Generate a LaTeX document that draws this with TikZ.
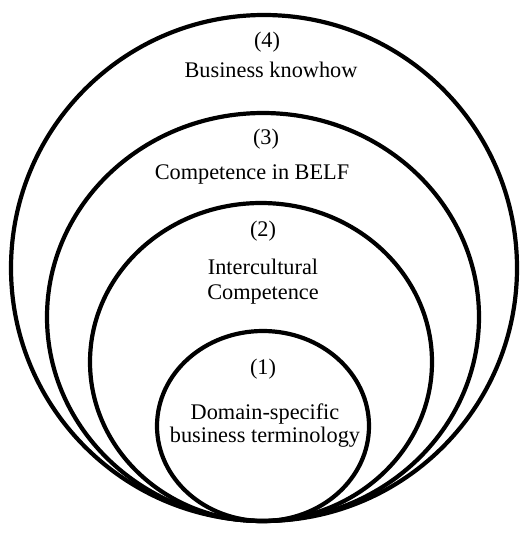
\documentclass[tikz,border=0pt]{standalone}
\usepackage{fontspec}
\setmainfont{Liberation Serif}
\begin{document}
\begin{tikzpicture}[x=1pt,y=-1pt,
  ring/.style={draw=black,line width=4.2pt},
  lbl/.style={font=\fontsize{22.3}{25}\selectfont,align=center,inner sep=0pt,anchor=base}]
\useasboundingbox (0,0) rectangle (522,533);
\fill[white] (0,0) rectangle (522,533);
\draw[ring] (264,268) ellipse [x radius=253,y radius=253];
\draw[ring] (263,317) ellipse [x radius=216,y radius=204];
\draw[ring] (261,362) ellipse [x radius=171,y radius=159];
\draw[ring] (263,426) ellipse [x radius=106,y radius=95];
\node[lbl] (n4) at (267,47) {(4)};
\node[lbl] (t4) at (271,77) {Business knowhow};
\node[lbl] (n3) at (266,144) {(3)};
\node[lbl] (t3) at (252,179) {Competence in BELF};
\node[lbl] (n2) at (263,236) {(2)};
\node[lbl] (t2a) at (263,274) {Intercultural};
\node[lbl] (t2b) at (263,299) {Competence};
\node[lbl] (n1) at (263,374) {(1)};
\node[lbl] (t1a) at (265,419) {Domain-specific};
\node[lbl] (t1b) at (265,442) {business terminology};
\end{tikzpicture}
\end{document}
